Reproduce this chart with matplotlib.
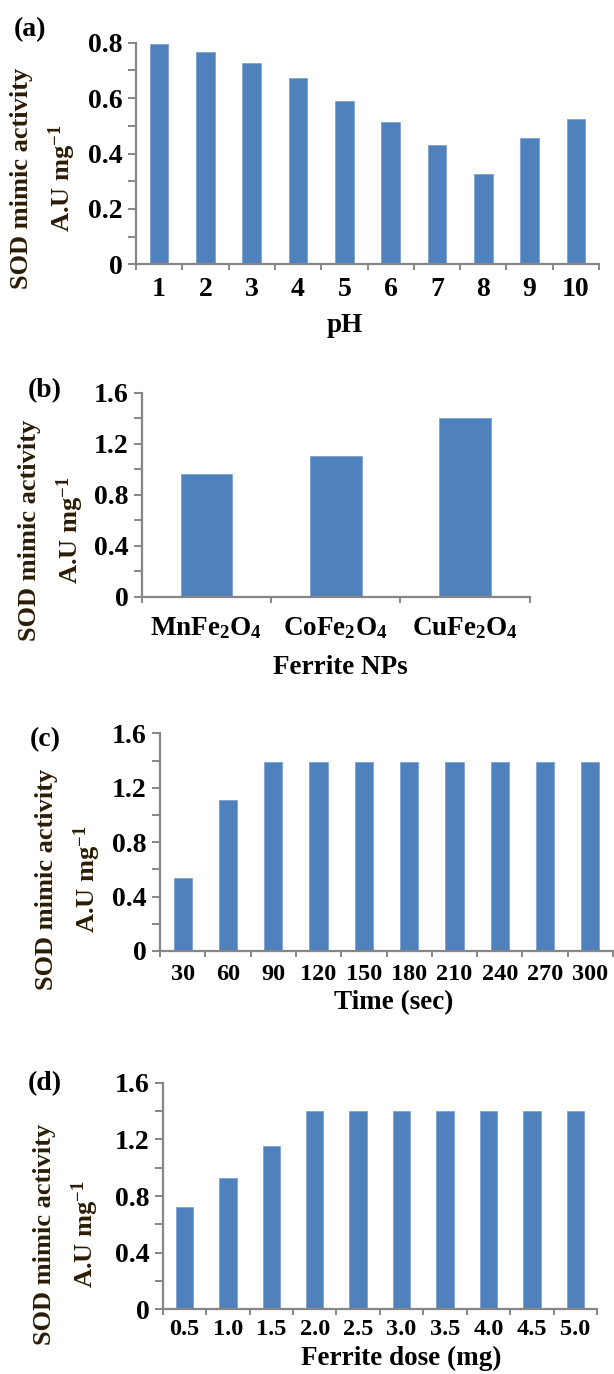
import matplotlib
matplotlib.use('Agg')
import matplotlib.pyplot as plt
import numpy as np

plt.rcParams['font.family'] = ['Liberation Serif', 'DejaVu Serif']
plt.rcParams['font.weight'] = 'bold'
plt.rcParams['mathtext.default'] = 'regular'

# (a) effect of pH
ph_labels = ['1', '2', '3', '4', '5', '6', '7', '8', '9', '10']
ph_values = [0.795, 0.765, 0.728, 0.674, 0.591, 0.514, 0.432, 0.326, 0.455, 0.523]

# (b) ferrite type
ferrite_labels = ['MnFe$_2$O$_4$', 'CoFe$_2$O$_4$', 'CuFe$_2$O$_4$']
ferrite_values = [0.96, 1.106, 1.404]

# (c) reaction time
time_labels = ['30', '60', '90', '120', '150', '180', '210', '240', '270', '300']
time_values = [0.54, 1.11, 1.39, 1.39, 1.39, 1.39, 1.39, 1.39, 1.39, 1.39]

# (d) ferrite dose
dose_labels = ['0.5', '1.0', '1.5', '2.0', '2.5', '3.0', '3.5', '4.0', '4.5', '5.0']
dose_values = [0.72, 0.93, 1.153, 1.403, 1.403, 1.403, 1.403, 1.403, 1.403, 1.403]

W, H = 614, 1374
BAR = '#4F81BD'
AXC = '#868686'
YLAB_C = '#2a1c05'

fig = plt.figure(figsize=(W / 100, H / 100), dpi=100)


def px_axes(left, top, right, bottom):
    return fig.add_axes([left / W, 1 - bottom / H, (right - left) / W, (bottom - top) / H])


def ftext(x, y, s, **kw):
    return fig.text(x / W, 1 - y / H, s, **kw)


def draw(ax, labels, values, ymax, ystep, xfs, xpad):
    n = len(values)
    x = np.arange(n)
    ax.bar(x, values, width=0.4, color=BAR, edgecolor='#7da2d2', linewidth=0.6)
    ax.set_xlim(-0.5, n - 0.5)
    ax.set_ylim(0, ymax)
    for s in ['top', 'right']:
        ax.spines[s].set_visible(False)
    for s in ['left', 'bottom']:
        ax.spines[s].set_color(AXC)
        ax.spines[s].set_linewidth(1.6)
    yt = np.arange(0, ymax + 1e-9, ystep)
    ax.set_yticks(yt, ['0' if v == 0 else f'{v:.1f}' for v in yt])
    ax.set_yticks(np.arange(0, ymax + 1e-9, ystep / 2), minor=True)
    ax.tick_params(axis='y', which='both', direction='out', length=5.5,
                   width=1.4, color=AXC, pad=4, labelsize=20)
    ax.set_xticks(x, labels)
    ax.set_xticks(np.arange(-0.5, n, 1.0), minor=True)
    ax.tick_params(axis='x', which='major', length=0, pad=xpad, labelsize=xfs)
    ax.tick_params(axis='x', which='minor', direction='out', length=4,
                   width=1.4, color=AXC)


# panel boxes in pixels: left, top, right, bottom
ax_a = px_axes(136, 42.7, 599, 264.3)
draw(ax_a, ph_labels, ph_values, 0.8, 0.2, 20, 9)
ax_b = px_axes(141.7, 392.7, 529.7, 596.7)
draw(ax_b, ferrite_labels, ferrite_values, 1.6, 0.4, 19.5, 13)
ax_c = px_axes(160, 733.3, 613, 951)
draw(ax_c, time_labels, time_values, 1.6, 0.4, 17.5, 9)
ax_d = px_axes(162.7, 1082.7, 597, 1309.3)
draw(ax_d, dose_labels, dose_values, 1.6, 0.4, 17.5, 7)

ylab = 'SOD mimic activity\nA.U mg$^{-1}$'
for (lx, ly) in [(44, 178), (52, 530), (69, 879), (67, 1234)]:
    ftext(lx, ly, ylab, rotation=90, ha='center', va='center',
          multialignment='center', fontsize=19, color=YLAB_C, linespacing=1.6)

for (tx, ty, s) in [(345, 325, 'pH'), (340, 667, 'Ferrite NPs'),
                    (394, 1003, 'Time (sec)'), (401, 1358, 'Ferrite dose (mg)')]:
    ftext(tx, ty, s, ha='center', va='center', fontsize=19.5)

for (px, py, s) in [(30, 30, '(a)'), (45, 391, '(b)'), (45, 740, '(c)'), (45, 1084, '(d)')]:
    ftext(px, py, s, ha='center', va='center', fontsize=20)

fig.savefig('out.png', dpi=100)
